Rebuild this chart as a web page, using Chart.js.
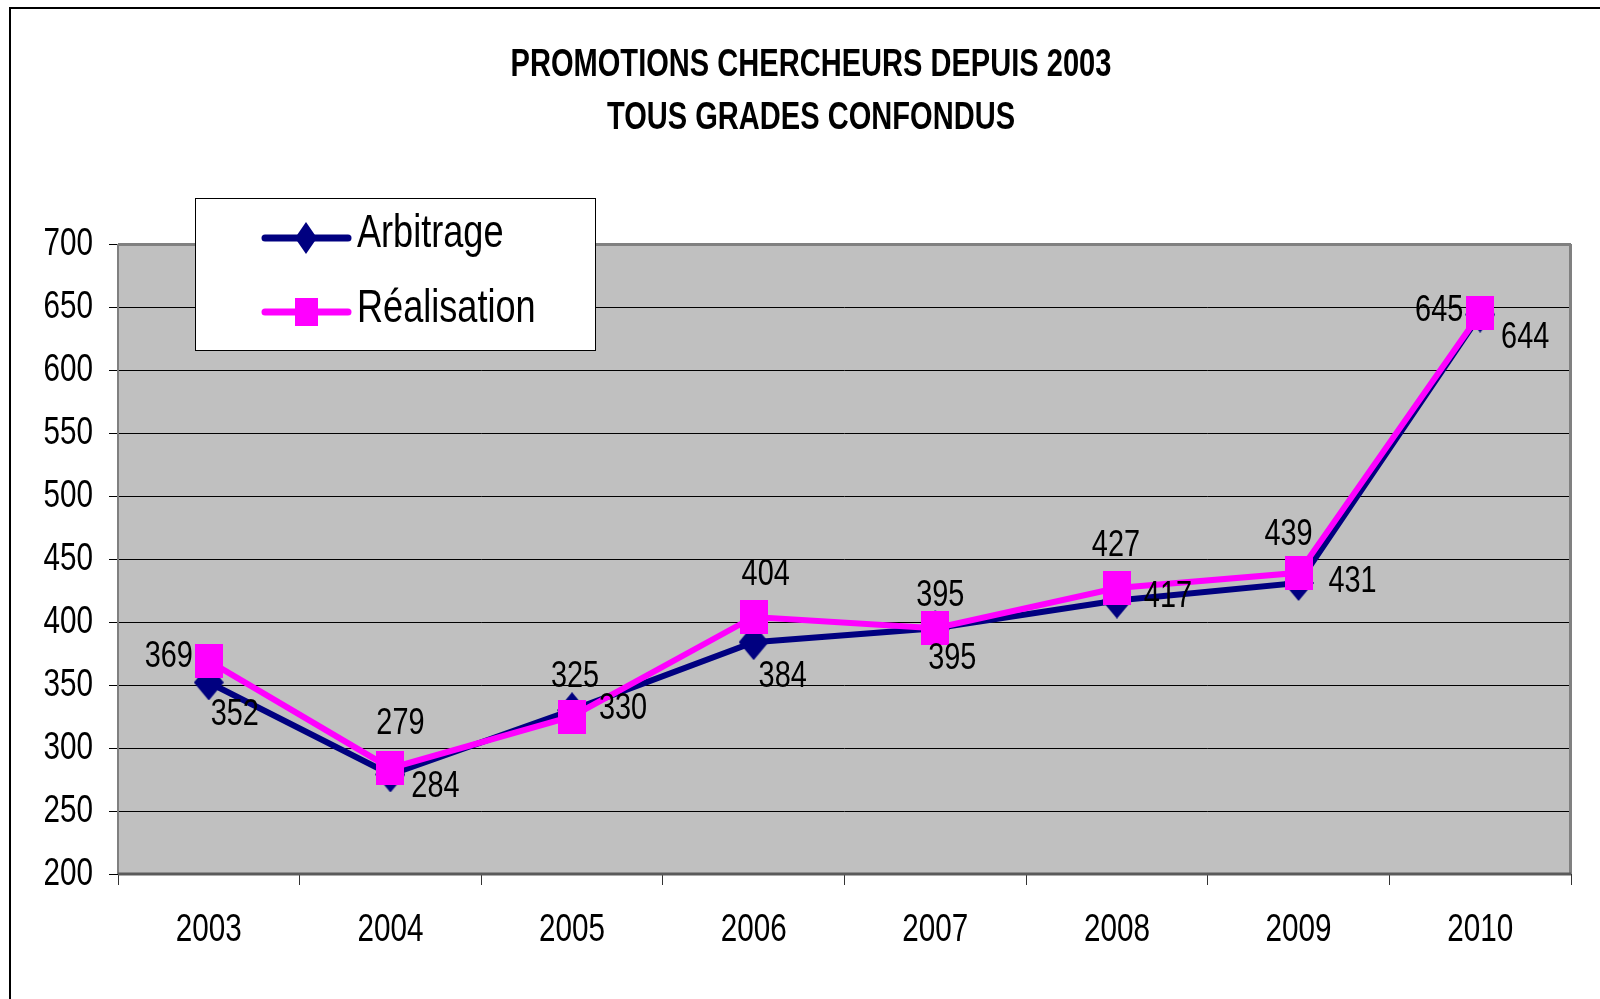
<!DOCTYPE html>
<html><head><meta charset="utf-8">
<script src="https://cdn.jsdelivr.net/npm/chart.js@4/dist/chart.umd.min.js"></script>
<style>html,body{margin:0;padding:0;background:#fff;overflow:hidden}#wrap{width:1600px;height:999px;position:relative}</style>
</head><body><div id="wrap"><canvas id="c" width="1600" height="999"></canvas></div>
<script>
// ---- data ----
const years = ['2003','2004','2005','2006','2007','2008','2009','2010'];
const arbitrage = [352, 279, 330, 384, 395, 417, 431, 644];
const realisation = [369, 284, 325, 404, 395, 427, 439, 645];
const seriesNames = ['Arbitrage', 'Réalisation'];
const titleLines = ['PROMOTIONS CHERCHEURS DEPUIS 2003', 'TOUS GRADES CONFONDUS'];
const yMin = 200, yMax = 700, yStep = 50;

// ---- styles ----
const FONT = '"Liberation Sans", Arial, sans-serif';
const NAVY = '#000080', PINK = '#FF00FF';
// label centre offsets relative to each point (px)
const labelOffsets = [
  [[26,32],[10,-51],[51,-1],[29,35],[17,30],[51,-4],[54,-1],[45,23]],
  [[-40,-4],[45,19],[3,-40],[12,-42],[5,-33],[-1,-42],[-10,-38],[-41,-3]]
];

function nText(ctx, text, x, y, size, weight, align, baseline, sx){
  ctx.save();
  ctx.font = weight + ' ' + size + 'px ' + FONT;
  ctx.textAlign = align; ctx.textBaseline = baseline; ctx.fillStyle = '#000';
  ctx.translate(x, y); ctx.scale(sx, 1);
  ctx.fillText(text, 0, 0);
  ctx.restore();
}

function markerCanvas(kind, w, h, color){
  const c = document.createElement('canvas'); c.width = w; c.height = h;
  const g = c.getContext('2d'); g.fillStyle = color; g.beginPath();
  if (kind === 'diamond'){ g.moveTo(w/2,0); g.lineTo(w,h/2); g.lineTo(w/2,h); g.lineTo(0,h/2); g.closePath(); }
  else { g.rect(0,0,w,h); }
  g.fill(); return c;
}
const diamond = markerCanvas('diamond', 30, 36, NAVY);
const square = markerCanvas('square', 28, 34, PINK);
const legDiamond = markerCanvas('diamond', 22, 32, NAVY);
const legSquare = markerCanvas('square', 23, 28, PINK);

const deco = {
  id: 'deco',
  beforeDraw(chart){
    const {ctx, chartArea: a} = chart;
    ctx.save();
    ctx.fillStyle = '#fff'; ctx.fillRect(0,0,chart.width,chart.height);
    ctx.fillStyle = '#C0C0C0'; ctx.fillRect(a.left, a.top, a.right-a.left, a.bottom-a.top);
    ctx.strokeStyle = '#000'; ctx.lineWidth = 2;
    ctx.beginPath(); ctx.moveTo(10, chart.height+5); ctx.lineTo(10, 8); ctx.lineTo(chart.width+5, 8); ctx.stroke();
    ctx.restore();
  },
  beforeDatasetsDraw(chart){
    const {ctx, chartArea: a} = chart;
    ctx.save();
    ctx.strokeStyle = '#808080';
    ctx.lineWidth = 3; ctx.beginPath(); ctx.moveTo(a.left, a.top+0.5); ctx.lineTo(a.right, a.top+0.5); ctx.stroke();
    ctx.beginPath(); ctx.moveTo(a.right-0.5, a.top); ctx.lineTo(a.right-0.5, a.bottom); ctx.stroke();
    ctx.lineWidth = 2; ctx.beginPath(); ctx.moveTo(a.left, a.top); ctx.lineTo(a.left, a.bottom); ctx.stroke();
    ctx.strokeStyle = '#5a5a5a'; ctx.lineWidth = 3;
    ctx.beginPath(); ctx.moveTo(a.left, a.bottom); ctx.lineTo(a.right, a.bottom); ctx.stroke();
    ctx.restore();
    // axis tick labels, placed by the library's scales
    const ys = chart.scales.y, xs = chart.scales.x;
    ys.ticks.forEach((t, i) => {
      nText(ctx, String(t.value), a.left - 9 - 16, ys.getPixelForTick(i) + 1, 38, 'normal', 'right', 'middle', 0.78);
    });
    xs.ticks.forEach((t, i) => {
      nText(ctx, chart.data.labels[t.value], xs.getPixelForTick(i), a.bottom + 57, 38, 'normal', 'center', 'middle', 0.78);
    });
    // title, placed in the library's title block
    const tb = chart.titleBlock;
    const lh = 53, cx = (tb.left + tb.right) / 2;
    titleLines.forEach((line, i) => {
      nText(ctx, line, cx, tb.top + 39 + lh/2 + i*lh, 38, 'bold', 'center', 'middle', 0.765);
    });
  },
  afterDatasetsDraw(chart){
    const {ctx} = chart;
    chart.data.datasets.forEach((ds, di) => {
      const meta = chart.getDatasetMeta(di);
      meta.data.forEach((pt, i) => {
        const off = labelOffsets[di][i];
        nText(ctx, String(ds.data[i]), pt.x + off[0], pt.y + off[1], 37, 'normal', 'center', 'middle', 0.78);
      });
    });
  },
  afterDraw(chart){
    const {ctx} = chart;
    ctx.save();
    const bx = 195, by = 198, bw = 400, bh = 152;
    ctx.fillStyle = '#fff'; ctx.fillRect(bx, by, bw, bh);
    ctx.strokeStyle = '#000'; ctx.lineWidth = 1; ctx.strokeRect(bx+0.5, by+0.5, bw, bh);
    const rows = [{y: 238, base: 247, color: NAVY, img: legDiamond}, {y: 312, base: 322, color: PINK, img: legSquare}];
    rows.forEach((r, i) => {
      ctx.strokeStyle = r.color; ctx.lineWidth = 7; ctx.lineCap = 'round';
      ctx.beginPath(); ctx.moveTo(265, r.y); ctx.lineTo(348, r.y); ctx.stroke();
      ctx.drawImage(r.img, 306 - r.img.width/2, r.y - r.img.height/2);
      nText(ctx, chart.data.datasets[i].label, 357, r.base, 46, 'normal', 'left', 'alphabetic', 0.785);
    });
    ctx.restore();
  }
};

new Chart(document.getElementById('c'), {
  type: 'line',
  data: {
    labels: years,
    datasets: [
      {label: seriesNames[0], data: arbitrage, borderColor: NAVY, backgroundColor: NAVY, borderWidth: 6, pointStyle: diamond, order: 1},
      {label: seriesNames[1], data: realisation, borderColor: PINK, backgroundColor: PINK, borderWidth: 6, pointStyle: square, order: 0}
    ]
  },
  options: {
    responsive: false, devicePixelRatio: 1, animation: false,
    events: [],
    layout: {padding: {left: 51, right: 29, top: 0, bottom: 0}},
    elements: {line: {tension: 0, fill: false}},
    plugins: {
      legend: {display: false}, tooltip: {enabled: false},
      title: {display: true, text: titleLines, color: 'rgba(0,0,0,0)',
        font: {family: FONT, size: 36, weight: 'bold', lineHeight: 53/36},
        padding: {top: 37, bottom: 101}}
    },
    scales: {
      x: {
        offset: true,
        afterFit: s => { s.height = 125; },
        grid: {offset: true, drawOnChartArea: false, drawTicks: true, tickLength: 11, color: '#333', lineWidth: 1},
        border: {display: false},
        ticks: {display: false, autoSkip: false, maxRotation: 0}
      },
      y: {
        min: yMin, max: yMax,
        afterFit: s => { s.width = 67; },
        grid: {color: '#000', lineWidth: 1, tickLength: 9, drawTicks: true},
        border: {display: false},
        ticks: {display: false, stepSize: yStep}
      }
    }
  },
  plugins: [deco]
});
</script></body></html>
